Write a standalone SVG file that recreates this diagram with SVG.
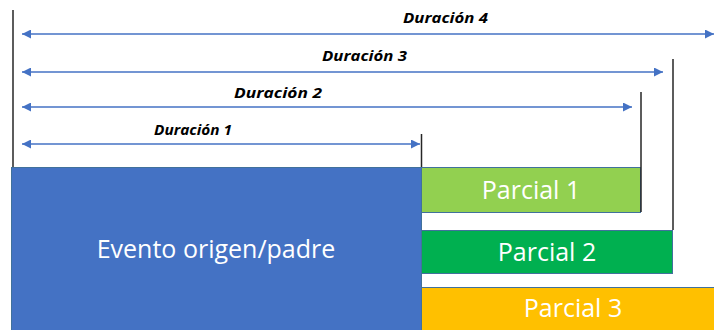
<svg xmlns="http://www.w3.org/2000/svg" width="714" height="330" viewBox="0 0 714 330">
<defs>
<marker id="ah" viewBox="0 0 10 10" refX="10" refY="5" markerWidth="9" markerHeight="9" markerUnits="userSpaceOnUse" orient="auto-start-reverse">
<path d="M0,0 L10,5 L0,10 Z" fill="#4472C4"/>
</marker>
<style>
.box{stroke:#41719C;stroke-width:1}
.lbl{font-family:"Open Sans","Liberation Sans",sans-serif;font-size:25px;fill:#FFFFFF;text-anchor:middle}
.dur{font-family:"Open Sans","Liberation Sans",sans-serif;font-size:15px;font-weight:bold;font-style:italic;fill:#000000}
.arr{stroke:#4472C4;stroke-width:1.5;fill:none;marker-start:url(#ah);marker-end:url(#ah)}
.tick{stroke:#262626;stroke-width:1.5;fill:none}
</style>
</defs>
<rect width="714" height="330" fill="#FFFFFF"/>
<g id="evento">
<rect class="box" x="11.5" y="167.5" width="410" height="170" fill="#4472C4"/>
<text class="lbl" x="216" y="258">Evento origen/padre</text>
</g>
<g id="parcial1">
<rect class="box" x="421.5" y="167.5" width="219" height="45" fill="#92D050"/>
<text class="lbl" x="531" y="199">Parcial 1</text>
</g>
<g id="parcial2">
<rect class="box" x="421.5" y="230.5" width="251" height="43" fill="#00B050"/>
<text class="lbl" x="547" y="261">Parcial 2</text>
</g>
<g id="parcial3">
<rect class="box" x="421.5" y="287.5" width="310" height="50" fill="#FFC000"/>
<text class="lbl" x="573" y="317">Parcial 3</text>
</g>
<g id="connectors">
<line class="tick" x1="13" y1="10" x2="13" y2="167"/>
<line class="tick" x1="421.5" y1="134" x2="421.5" y2="167"/>
<line class="tick" x1="641" y1="92" x2="641" y2="212"/>
<line class="tick" x1="673" y1="59" x2="673" y2="230"/>
<line class="arr" x1="22" y1="34" x2="714" y2="34"/>
<line class="arr" x1="22" y1="72" x2="663" y2="72"/>
<line class="arr" x1="22" y1="107" x2="632" y2="107"/>
<line class="arr" x1="22" y1="144" x2="420" y2="144"/>
</g>
<g id="labels">
<text class="dur" x="403" y="23" textLength="85" lengthAdjust="spacingAndGlyphs">Duración 4</text>
<text class="dur" x="322" y="61" textLength="85" lengthAdjust="spacingAndGlyphs">Duración 3</text>
<text class="dur" x="234" y="98" textLength="88" lengthAdjust="spacingAndGlyphs">Duración 2</text>
<text class="dur" x="154" y="135" textLength="78" lengthAdjust="spacingAndGlyphs">Duración 1</text>
</g>
</svg>
